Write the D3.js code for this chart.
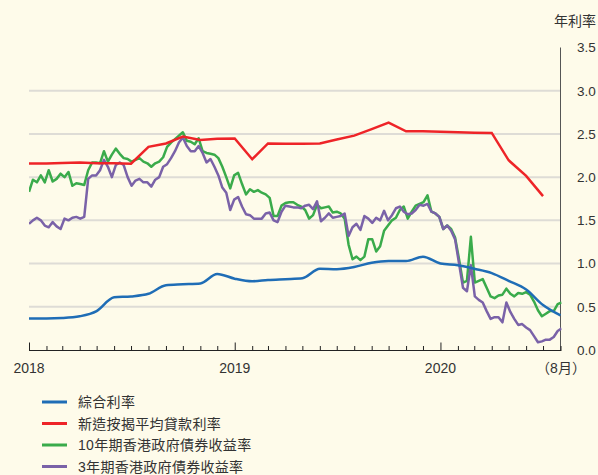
<!DOCTYPE html>
<html>
<head>
<meta charset="utf-8">
<script src="https://cdn.jsdelivr.net/npm/d3@7"></script>
<style>
  body { margin: 0; background: #fefbea; }
  text { font-family: "Liberation Sans", "Noto Sans CJK TC", sans-serif; fill: #333; }
</style>
</head>
<body>
<svg id="chart"></svg>
<script>

// monthly series, Jan 2018 onwards
var compositeRate = [0.365, 0.365, 0.37, 0.39, 0.45, 0.61, 0.62, 0.65, 0.75, 0.76, 0.77, 0.88,
  0.825, 0.795, 0.81, 0.82, 0.83, 0.94, 0.935, 0.96, 1.01, 1.03, 1.03, 1.08,
  1.0, 0.98, 0.94, 0.89, 0.80, 0.70, 0.52, 0.40]
var mortgageRate = [2.157, 2.157, 2.165, 2.17, 2.16, 2.16, 2.155, 2.35, 2.39, 2.47, 2.43, 2.445,
  2.447, 2.207, 2.39, 2.385, 2.385, 2.39, 2.435, 2.48, 2.555, 2.63, 2.53, 2.53,
  2.525, 2.52, 2.515, 2.512, 2.195, 2.015, 1.78]

// weekly series, starting 1 Jan 2018
var bond10y = [1.83, 1.97, 1.94, 2.02, 1.94, 2.08, 1.95, 1.98, 2.04, 2.0, 2.06, 1.9, 1.93, 1.92, 1.91,
  2.08, 2.17, 2.17, 2.16, 2.3, 2.18, 2.26, 2.33, 2.27, 2.22, 2.21, 2.18, 2.2, 2.22, 2.18,
  2.16, 2.12, 2.16, 2.18, 2.23, 2.35, 2.4, 2.44, 2.48, 2.52, 2.42, 2.41, 2.38, 2.45, 2.3,
  2.28, 2.27, 2.26, 2.22, 2.12, 2.0, 1.87, 2.02, 2.05, 1.92, 1.8, 1.86, 1.83, 1.85, 1.82,
  1.8, 1.76, 1.55, 1.55, 1.67, 1.70, 1.71, 1.71, 1.68, 1.66, 1.62, 1.52, 1.56, 1.68, 1.64,
  1.65, 1.66, 1.59, 1.6, 1.58, 1.52, 1.22, 1.05, 1.08, 1.04, 1.08, 1.28, 1.28, 1.14, 1.2,
  1.38, 1.44, 1.5, 1.53, 1.62, 1.66, 1.52, 1.6, 1.67, 1.69, 1.71, 1.79, 1.6, 1.58, 1.54,
  1.4, 1.44, 1.4, 1.3, 1.05, 0.78, 0.8, 1.31, 0.78, 0.8, 0.82, 0.72, 0.62, 0.6, 0.63,
  0.64, 0.71, 0.65, 0.62, 0.66, 0.65, 0.67, 0.64, 0.56, 0.46, 0.39, 0.42, 0.45, 0.45, 0.53, 0.55]
var bond3y = [1.46, 1.5, 1.53, 1.5, 1.44, 1.42, 1.48, 1.43, 1.40, 1.52, 1.5, 1.53, 1.54, 1.52, 1.54,
  1.98, 2.02, 2.02, 2.08, 2.2, 2.12, 2.0, 2.14, 2.17, 2.14, 2.0, 1.9, 1.96, 1.98, 1.94,
  1.94, 1.89, 1.97, 2.0, 2.12, 2.15, 2.22, 2.3, 2.4, 2.46, 2.36, 2.3, 2.3, 2.36, 2.28,
  2.17, 2.21, 2.12, 2.02, 1.88, 1.82, 1.62, 1.74, 1.77, 1.66, 1.57, 1.56, 1.52, 1.52, 1.52,
  1.58, 1.59, 1.5, 1.48, 1.6, 1.67, 1.66, 1.65, 1.65, 1.64, 1.67, 1.68, 1.63, 1.72, 1.49,
  1.53, 1.58, 1.53, 1.54, 1.55, 1.58, 1.32, 1.42, 1.46, 1.39, 1.55, 1.52, 1.47, 1.53, 1.5,
  1.61, 1.5, 1.56, 1.64, 1.66, 1.6, 1.57, 1.58, 1.62, 1.68, 1.67, 1.69, 1.6, 1.58, 1.54,
  1.40, 1.44, 1.38, 1.28, 1.0, 0.72, 0.68, 0.98, 0.62, 0.58, 0.55, 0.45, 0.36, 0.38, 0.38,
  0.32, 0.55, 0.44, 0.36, 0.29, 0.3, 0.26, 0.23, 0.16, 0.09, 0.1, 0.12, 0.12, 0.15, 0.22, 0.25]

var yTicks = [0, 0.5, 1.0, 1.5, 2.0, 2.5, 3.0, 3.5]
var gridValues = [0.5, 1.0, 1.5, 2.0, 2.5, 3.0]
var yearLabels = ["2018", "2019", "2020"]
var legendNames = ["綜合利率", "新造按揭平均貸款利率", "10年期香港政府債券收益率", "3年期香港政府債券收益率"]
var colors = ["#1f6db6", "#ee2428", "#3aab4b", "#7a62a8"]

var screen = { width: 598, height: 475 }
var plot = { left: 29, right: 560.5, top: 47.5, bottom: 350 }

var start = new Date(2018, 0, 1)
var monthly = function(arr) {
  return arr.map(function(v, i) { return { date: d3.timeMonth.offset(start, i), value: v } })
}
var weekly = function(arr) {
  return arr.map(function(v, i) { return { date: d3.timeDay.offset(start, 7 * i), value: v } })
}

var svg = d3.select("#chart")
  .attr("width", screen.width)
  .attr("height", screen.height)

svg.append("rect")
  .attr("width", screen.width)
  .attr("height", screen.height)
  .attr("fill", "#fefbea")

var xScale = d3.scaleTime()
  .domain([start, new Date(2020, 7, 1)])
  .range([plot.left, plot.right])

var yScale = d3.scaleLinear()
  .domain([0, 3.5])
  .range([plot.bottom, plot.top])

// gridlines
svg.selectAll(".grid")
  .data(gridValues)
  .enter()
  .append("line")
  .attr("class", "grid")
  .attr("x1", plot.left)
  .attr("x2", plot.right)
  .attr("y1", function(d) { return yScale(d) })
  .attr("y2", function(d) { return yScale(d) })
  .attr("stroke", "#dedcd6")
  .attr("stroke-width", 2)

// right axis line + labels
svg.append("line")
  .attr("x1", plot.right).attr("x2", plot.right)
  .attr("y1", plot.top).attr("y2", plot.bottom)
  .attr("stroke", "#555")
  .attr("stroke-width", 1)

svg.selectAll(".ylab")
  .data(yTicks)
  .enter()
  .append("text")
  .attr("class", "ylab")
  .attr("x", 577)
  .attr("y", function(d) { return yScale(d) })
  .attr("dy", "0.36em")
  .attr("font-size", "13.5px")
  .text(function(d) { return d.toFixed(1) })

svg.append("text")
  .attr("x", 596)
  .attr("y", 26)
  .attr("text-anchor", "end")
  .attr("font-size", "14px")
  .text("年利率")

// x axis: month ticks pointing up, taller at each year
var xAxis = d3.axisBottom(xScale)
  .ticks(d3.timeMonth.every(1))
  .tickSizeInner(-5)
  .tickSizeOuter(0)
  .tickFormat("")

var gx = svg.append("g")
  .attr("transform", "translate(0," + plot.bottom + ")")
  .call(xAxis)
gx.select(".domain").attr("stroke", "#222")
gx.selectAll(".tick line")
  .attr("stroke", "#222")
  .attr("y1", 1)
  .attr("y2", function(d) { return d.getMonth() == 0 ? -7.5 : -4 })

svg.selectAll(".xlab")
  .data(yearLabels)
  .enter()
  .append("text")
  .attr("class", "xlab")
  .attr("x", function(d) { return xScale(new Date(+d, 0, 1)) })
  .attr("y", 373)
  .attr("text-anchor", "middle")
  .attr("font-size", "14px")
  .text(function(d) { return d })

svg.append("text")
  .attr("x", 561)
  .attr("y", 373)
  .attr("text-anchor", "middle")
  .attr("font-size", "14px")
  .text("（8月）")

svg.append("clipPath")
  .attr("id", "clip")
  .append("rect")
  .attr("x", plot.left)
  .attr("y", 0)
  .attr("width", plot.right - plot.left + 1)
  .attr("height", screen.height)

var line = d3.line()
  .x(function(d) { return xScale(d.date) })
  .y(function(d) { return yScale(d.value) })

var smooth = d3.line()
  .curve(d3.curveMonotoneX)
  .x(function(d) { return xScale(d.date) })
  .y(function(d) { return yScale(d.value) })

var lines = svg.append("g").attr("clip-path", "url(#clip)")

lines.append("path")
  .datum(weekly(bond10y))
  .attr("d", line)
  .attr("fill", "none")
  .attr("stroke", colors[2])
  .attr("stroke-width", 2.5)
  .attr("stroke-linejoin", "round")

lines.append("path")
  .datum(weekly(bond3y))
  .attr("d", line)
  .attr("fill", "none")
  .attr("stroke", colors[3])
  .attr("stroke-width", 2.5)
  .attr("stroke-linejoin", "round")

lines.append("path")
  .datum(monthly(mortgageRate))
  .attr("d", line)
  .attr("fill", "none")
  .attr("stroke", colors[1])
  .attr("stroke-width", 2.5)

lines.append("path")
  .datum(monthly(compositeRate))
  .attr("d", smooth)
  .attr("fill", "none")
  .attr("stroke", colors[0])
  .attr("stroke-width", 2.5)

// legend
var legend = svg.selectAll(".legend")
  .data(legendNames)
  .enter()
  .append("g")
  .attr("class", "legend")
  .attr("transform", function(d, i) { return "translate(42," + (402 + i * 21.5) + ")" })

legend.append("line")
  .attr("x1", 0).attr("x2", 25)
  .attr("stroke", function(d, i) { return colors[i] })
  .attr("stroke-width", 3)

legend.append("text")
  .attr("x", 36)
  .attr("dy", "0.36em")
  .attr("font-size", "14px")
  .attr("letter-spacing", "0.3px")
  .text(function(d) { return d })

</script>
</body>
</html>
